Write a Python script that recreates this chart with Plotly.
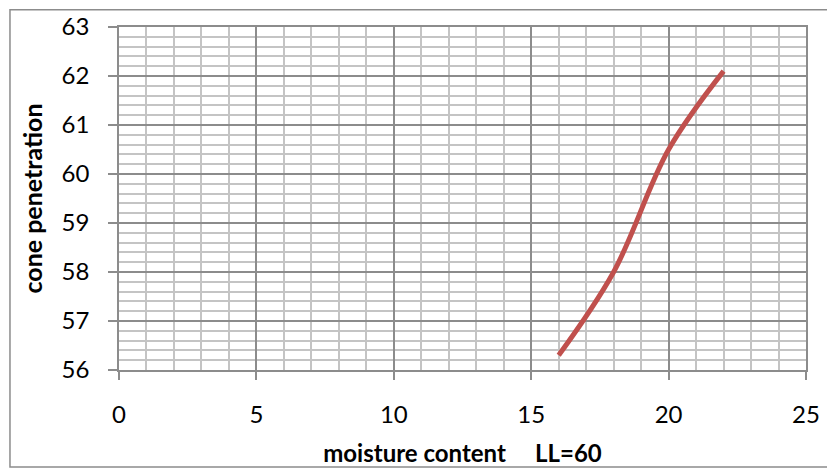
import plotly.graph_objects as go

# values
moisture = [16, 18, 20, 22]
penetration = [56.3, 58.0, 60.5, 62.1]

x_ticks = [0, 5, 10, 15, 20, 25]
y_ticks = [56, 57, 58, 59, 60, 61, 62, 63]

major_grid = '#8c8c8c'
minor_grid = '#c4c4c4'
font_name = 'Lato'

fig = go.Figure()

fig.add_trace(go.Scatter(
    x=moisture,
    y=penetration,
    mode='lines',
    line=dict(color='#c0504d', width=5, shape='spline', smoothing=1),
    hoverinfo='x+y'
))

fig.update_xaxes(
    range=[0, 25],
    tickvals=x_ticks,
    ticks='outside', ticklen=8, tickcolor=major_grid, tickwidth=1.5,
    ticklabelstandoff=14,
    showgrid=True, gridcolor=major_grid, gridwidth=1.5,
    minor=dict(dtick=1, showgrid=True, gridcolor=minor_grid, gridwidth=1.5),
    showline=True, linecolor=major_grid, linewidth=1.5, mirror=True,
    zeroline=False, automargin=False,
    tickfont=dict(family=font_name, size=24, color='black'),
    title=dict(text='moisture content\u00a0\u00a0\u00a0\u00a0 LL=60',
               font=dict(family=font_name, size=24, color='black', weight='bold'),
               standoff=19)
)

fig.update_yaxes(
    range=[56, 63],
    tickvals=y_ticks,
    ticks='outside', ticklen=9, tickcolor=major_grid, tickwidth=1.5,
    ticklabelstandoff=14,
    showgrid=True, gridcolor=major_grid, gridwidth=1.5,
    minor=dict(dtick=0.2, showgrid=True, gridcolor=minor_grid, gridwidth=1.5),
    showline=True, linecolor=major_grid, linewidth=1.5, mirror=True,
    zeroline=False, automargin=False,
    tickfont=dict(family=font_name, size=24, color='black'),
    title=dict(text='cone penetration',
               font=dict(family=font_name, size=25, color='black', weight='bold'),
               standoff=12)
)

# chart area frame (right edge falls outside the picture)
fig.add_shape(type='rect', xref='paper', yref='paper',
              x0=-0.1587, x1=1.3, y0=-0.283, y1=1.05,
              line=dict(color='#8c8c8c', width=1.5), layer='above')

# page body adds 8px, so the figure is a little smaller than the window
fig.update_layout(
    width=827, height=464,
    margin=dict(l=111, r=29, t=19, b=102),
    plot_bgcolor='white',
    paper_bgcolor='white',
    showlegend=False
)

fig.write_html("out.html")
